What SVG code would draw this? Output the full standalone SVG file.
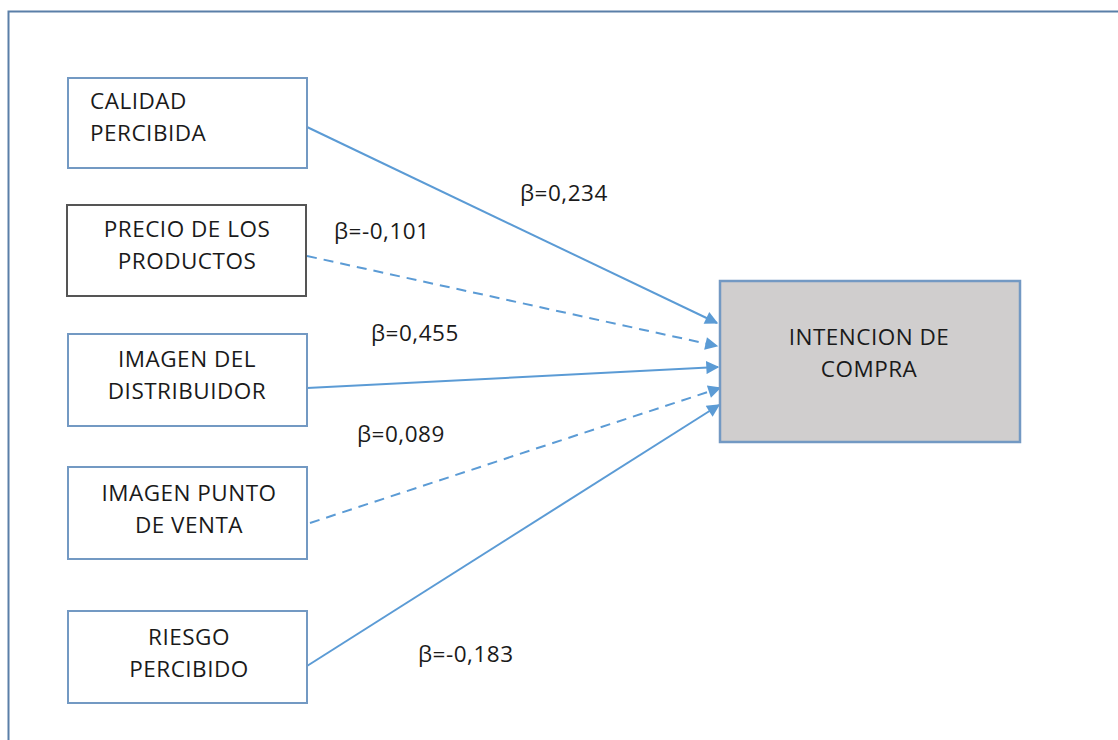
<svg xmlns="http://www.w3.org/2000/svg" width="1118" height="740" viewBox="0 0 1118 740">
<style>
.box{fill:#fff;stroke:#7399c3;stroke-width:2}
.dark{fill:#fff;stroke:#555;stroke-width:2}
.tgt{fill:#d0cece;stroke:#7399c3;stroke-width:2.5}
text{font-family:"Open Sans","Liberation Sans",sans-serif;font-size:22.5px;letter-spacing:0.5px;fill:#1a1a1a}
.c{text-anchor:middle}
.ln{stroke:#5b9bd5;stroke-width:2;fill:none}
.dash{stroke-dasharray:10,7}
</style>
<defs>
<marker id="a" viewBox="0 0 10 10" refX="9" refY="5" markerWidth="15" markerHeight="13" markerUnits="userSpaceOnUse" orient="auto">
<path d="M0,0 L10,5 L0,10 z" fill="#5b9bd5"/>
</marker>
</defs>
<rect width="1118" height="740" fill="#fff"/>
<path d="M8.5,740 V11.5 H1118" fill="none" stroke="#5a7fa8" stroke-width="2"/>
<g id="connectors">
<line class="ln" x1="307" y1="127" x2="717" y2="323" marker-end="url(#a)"/>
<line class="ln dash" x1="307" y1="256" x2="717" y2="346" marker-end="url(#a)"/>
<line class="ln" x1="307" y1="388" x2="718" y2="367" marker-end="url(#a)"/>
<line class="ln dash" x1="310" y1="523" x2="720" y2="388" marker-end="url(#a)"/>
<line class="ln" x1="307" y1="666" x2="719" y2="405" marker-end="url(#a)"/>
<text x="520" y="201">β=0,234</text>
<text x="334" y="239">β=-0,101</text>
<text x="371" y="341">β=0,455</text>
<text x="357" y="442">β=0,089</text>
<text x="418" y="662">β=-0,183</text>
</g>
<g id="calidad">
<rect class="box" x="68" y="78" width="239" height="90"/>
<text x="90" y="109">CALIDAD</text>
<text x="90" y="141">PERCIBIDA</text>
</g>
<g id="precio">
<rect class="dark" x="67" y="205" width="239" height="91"/>
<text class="c" x="187" y="237">PRECIO DE LOS</text>
<text class="c" x="187" y="269">PRODUCTOS</text>
</g>
<g id="distribuidor">
<rect class="box" x="68" y="334" width="239" height="92"/>
<text class="c" x="187" y="367">IMAGEN DEL</text>
<text class="c" x="187" y="399">DISTRIBUIDOR</text>
</g>
<g id="puntoventa">
<rect class="box" x="68" y="467" width="239" height="92"/>
<text class="c" x="189" y="501">IMAGEN PUNTO</text>
<text class="c" x="189" y="533">DE VENTA</text>
</g>
<g id="riesgo">
<rect class="box" x="68" y="611" width="239" height="92"/>
<text class="c" x="189" y="645">RIESGO</text>
<text class="c" x="189" y="677">PERCIBIDO</text>
</g>
<g id="intencion">
<rect class="tgt" x="720" y="281" width="300" height="161"/>
<text class="c" x="869" y="345">INTENCION DE</text>
<text class="c" x="869" y="377">COMPRA</text>
</g>
</svg>
